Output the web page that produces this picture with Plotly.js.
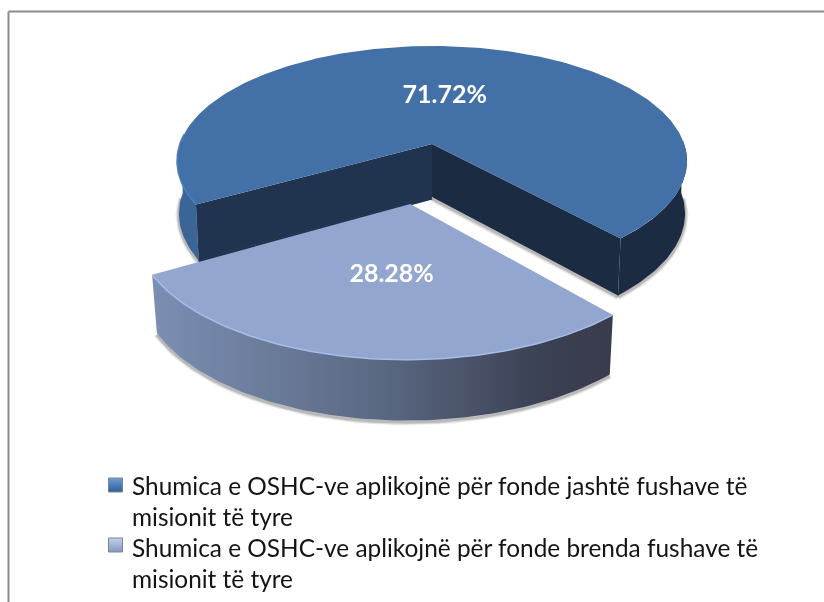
<!DOCTYPE html>
<html><head><meta charset="utf-8">
<script src="https://cdn.plot.ly/plotly-3.0.1.min.js"></script>
<style>html,body{margin:0;padding:0;background:#fff}#c{width:824px;height:602px;filter:blur(0.35px)}</style>
</head><body><div id="c"></div><script>
const seriesNames = ["Shumica e OSHC-ve aplikojnë për fonde jashtë fushave të misionit të tyre",
                     "Shumica e OSHC-ve aplikojnë për fonde brenda fushave të misionit të tyre"];
const legendLines = [["Shumica e OSHC-ve aplikojnë për fonde jashtë fushave të","misionit të tyre"],
                     ["Shumica e OSHC-ve aplikojnë për fonde brenda fushave të","misionit të tyre"]];
const percentages = [71.72, 28.28];
const dataLabels = ["71.72%", "28.28%"];

// projection of a tilted 3-D pie
const CX=432, AY=144, R=252.2, B=112.5, A=0.148, D=53;
const FIRST_ANGLE=240.1, EXPLODE=0.5;
function proj(u,v){const w=1-A*v;return [CX+R*u/w, AY+B*v/w];}
function lower(u,v){const p=proj(u,v),n=0.994-0.011*Math.min(Math.max(v,0),1);return [CX+(p[0]-CX)*n, p[1]+D*(1+0.1*v)];}
function rim(deg,off){const t=deg*Math.PI/180;return [Math.sin(t)+off[0],-Math.cos(t)+off[1]];}
function arc(a0,a1,off,fn){const out=[],n=Math.max(2,Math.ceil(Math.abs(a1-a0)));
  for(let i=0;i<=n;i++){const r=rim(a0+(a1-a0)*i/n,off);out.push(fn(r[0],r[1]));}return out;}

const start0=FIRST_ANGLE, end0=start0+percentages[0]*3.6;
const start1=end0, end1=start1+percentages[1]*3.6;
const mid1=(start1+end1)/2, midT=mid1*Math.PI/180;
const off0=[0,0], off1=[EXPLODE*Math.sin(midT),-EXPLODE*Math.cos(midT)];

const traces=[];
function poly(pts,color,extra){traces.push(Object.assign({type:'scatter',mode:'lines',x:pts.map(p=>p[0]),y:pts.map(p=>p[1]),
  fill:'toself',fillcolor:color,line:{width:0,color:color},hoverinfo:'skip',showlegend:false},extra||{}));}
function stroke(pts,color,w){traces.push({type:'scatter',mode:'lines',x:pts.map(p=>p[0]),y:pts.map(p=>p[1]),
  line:{width:w,color:color},hoverinfo:'skip',showlegend:false});}
function shadow(pts){const s=pts.map(p=>[p[0],p[1]+1.5]);
  stroke(s,'rgba(60,60,60,0.08)',7);stroke(s,'rgba(60,60,60,0.12)',5);stroke(s,'rgba(60,60,60,0.2)',3);}

const E0=rim(end0,off0), S0=rim(start0,off0), apex0=[off0[0],off0[1]];
// blue slice: shadows, walls and cut faces
shadow(arc(270,start0,off0,lower));
shadow(arc(end0-360,90,off0,lower));
shadow([lower(apex0[0],apex0[1]),lower(E0[0],E0[1])]);
stroke([lower(apex0[0],apex0[1]),lower(S0[0],S0[1])].map(p=>[p[0],p[1]+1]),'#20344f',3);
poly(arc(start0,272,off0,proj).concat(arc(start0,272,off0,lower).reverse()),'#3a6596');
poly(arc(end0-360,88,off0,proj).concat(arc(end0-360,88,off0,lower).reverse()),'#1a2b42');
poly([proj(apex0[0],apex0[1]),proj(S0[0],S0[1]),lower(S0[0],S0[1]),lower(apex0[0],apex0[1])],'#20344f');
poly([proj(apex0[0],apex0[1]),proj(E0[0],E0[1]),lower(E0[0],E0[1]),lower(apex0[0],apex0[1])],'#1a2b42');
poly([proj(apex0[0],apex0[1])].concat(arc(start0,end0,off0,proj)),'#4370a6');
stroke(arc(start0,275,off0,proj),'#4a80bd',1.5);

// light slice
const S1=rim(start1-360,off1), E1=rim(end1-360,off1), apex1=[off1[0],off1[1]];
shadow(arc(start1-360,end1-360,off1,lower));
poly(arc(start1-360,end1-360,off1,proj).concat(arc(start1-360,end1-360,off1,lower).reverse()),'#5c6a85',
  {fillgradient:{type:'horizontal',colorscale:[[0,'#7c8fb3'],[0.5,'#5a6882'],[0.85,'#3b4053'],[1,'#383c4c']]}});
poly([proj(apex1[0],apex1[1])].concat(arc(start1-360,end1-360,off1,proj)),'#92a6cf');
stroke(arc(start1-360,end1-360,off1,proj),'#a6bde8',1.5);

// data labels placed along each slice's mid angle
const mid0=(start0+end0)/2, m0=rim(mid0,off0), m1=rim(mid1,off1);
const L0=proj(m0[0]*0.45-0.018,m0[1]*0.45), L1=proj(off1[0]+(m1[0]-off1[0])*0.51+0.025,off1[1]+(m1[1]-off1[1])*0.51);
traces.push({type:'scatter',mode:'text',x:[L0[0],L1[0]],y:[L0[1],L1[1]],text:dataLabels,textposition:'middle center',
  textfont:{family:'Lato, "Open Sans", sans-serif',size:25,color:'#ffffff',weight:700},hoverinfo:'skip',showlegend:false});

// legend swatches and text
const swatchX=[115.5,115.5], swatchY=[485,545];
const swatchColors=['#2f5f98','#8298c2'], swatchTop=['#6d9cd6','#c2d0ea'];
seriesNames.forEach((n,i)=>traces.push({type:'scatter',mode:'markers',x:[swatchX[i]],y:[swatchY[i]],name:n,
  marker:{symbol:'square',size:14,color:swatchTop[i],gradient:{type:'vertical',color:swatchColors[i]},line:{width:1,color:'#7a8594'}},hoverinfo:'name',showlegend:false}));

const annotations=[];
const lineY=[485,516,547,578]; let k=0;
legendLines.forEach(ls=>ls.forEach(t=>{annotations.push({x:130,y:lineY[k++],xref:'x',yref:'y',xanchor:'left',yanchor:'middle',showarrow:false,
  text:t,font:{family:'Lato, "Open Sans", sans-serif',size:24.4,color:'#141414'}});}));

const layout={width:824,height:602,margin:{l:0,r:0,t:0,b:0},paper_bgcolor:'#fff',plot_bgcolor:'#fff',showlegend:false,
  xaxis:{range:[0,824],visible:false,fixedrange:true},
  yaxis:{range:[602,0],visible:false,fixedrange:true},
  annotations:annotations,
  shapes:[{type:'line',xref:'x',yref:'y',x0:8.5,x1:824,y0:11.5,y1:11.5,line:{color:'#8c8c8c',width:2}},
          {type:'line',xref:'x',yref:'y',x0:8.5,x1:8.5,y0:11.5,y1:602,line:{color:'#8c8c8c',width:2}}]};
Plotly.newPlot('c',traces,layout,{displayModeBar:false,staticPlot:true});
</script></body></html>
